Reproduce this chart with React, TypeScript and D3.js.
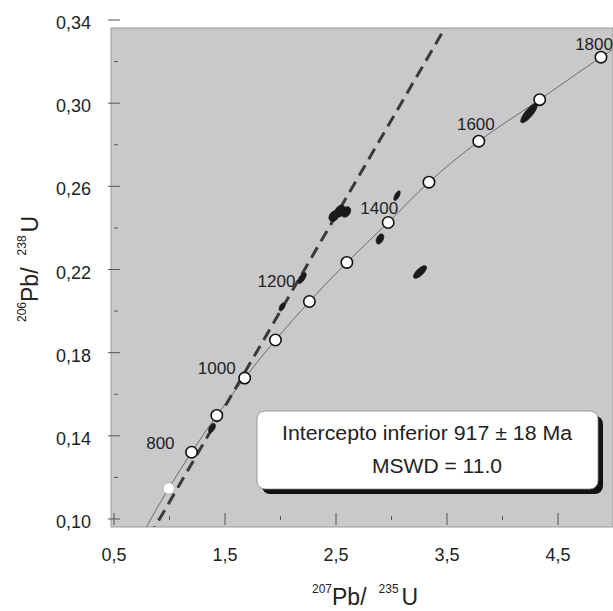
import React from "react";
import * as d3 from "d3";

// Concordia reference points (age in Ma, 207Pb/235U, 206Pb/238U)
const concAges = [500, 600, 700, 800, 900, 1000, 1100, 1200, 1300, 1400, 1500, 1600, 1700, 1800, 1900];
const concX = [0.6363, 0.8057, 0.9926, 1.1987, 1.4263, 1.6774, 1.9545, 2.2603, 2.5977, 2.9701, 3.3374, 3.7863, 4.3348, 4.8870, 5.4962];
const concY = [0.0807, 0.0975, 0.1147, 0.1321, 0.1498, 0.1678, 0.1861, 0.2046, 0.2234, 0.2426, 0.2620, 0.2817, 0.3017, 0.3221, 0.3428];
const markerAges = [700, 800, 900, 1000, 1100, 1200, 1300, 1400, 1500, 1600, 1700, 1800];
const labelAges = [800, 1000, 1200, 1400, 1600, 1800];

// Discordia line (two points)
const discX = [0.869, 3.482];
const discY = [0.0962, 0.3362];

// Analyses (error ellipses: centre, half-widths, correlation)
const ellX = [1.383, 2.014, 2.194, 2.482, 2.536, 2.59, 2.896, 3.05, 3.257, 4.239];
const ellY = [0.1438, 0.202, 0.2159, 0.2457, 0.2481, 0.2477, 0.2347, 0.2555, 0.2188, 0.2952];
const ellSX = [0.03, 0.026, 0.037, 0.045, 0.047, 0.042, 0.034, 0.028, 0.058, 0.074];
const ellSY = [0.0022, 0.0019, 0.0026, 0.0026, 0.0028, 0.0025, 0.0024, 0.0023, 0.0030, 0.0046];
const ellRho = [0.5, 0.5, 0.66, 0.3, 0.3, 0.3, 0.42, 0.65, 0.72, 0.82];

const xTicks = [0.5, 1.5, 2.5, 3.5, 4.5];
const xMinor = [1.0, 2.0, 3.0, 4.0];
const yTicks = [0.1, 0.14, 0.18, 0.22, 0.26, 0.3, 0.34];
const yMinor = [0.12, 0.16, 0.2, 0.24, 0.28, 0.32];

const boxLine1 = "Intercepto inferior 917 ± 18 Ma";
const boxLine2 = "MSWD = 11.0";

const W = 613, H = 611;
const plot = { left: 111, top: 28, right: 613, bottom: 527 };

const fmt = (v: number, d: number) => v.toFixed(d).replace(".", ",");

export default function App() {
  const x = d3.scaleLinear().domain([0.5, 4.5]).range([114, 558]);
  const y = d3.scaleLinear().domain([0.1, 0.34]).range([519, 20]);

  const concPts: [number, number][] = concX.map((v, i) => [x(v), y(concY[i])]);
  const concPath = d3.line().curve(d3.curveCatmullRom)(concPts) || "";

  const slope = (discY[1] - discY[0]) / (discX[1] - discX[0]);
  const dx0 = 0.3, dx1 = 4.0;
  const discPath = d3.line()([
    [x(dx0), y(discY[0] + slope * (dx0 - discX[0]))],
    [x(dx1), y(discY[0] + slope * (dx1 - discX[0]))],
  ]) || "";

  const ellPaths = ellX.map((cx, i) => {
    const pts: [number, number][] = d3.range(0, 360, 6).map((deg) => {
      const t = (deg * Math.PI) / 180;
      const px = cx + ellSX[i] * Math.cos(t);
      const py = ellY[i] + ellSY[i] * (ellRho[i] * Math.cos(t) + Math.sqrt(1 - ellRho[i] ** 2) * Math.sin(t));
      return [x(px), y(py)];
    });
    return d3.line().curve(d3.curveLinearClosed)(pts) || "";
  });

  const labelOffsets: Record<number, [number, number]> = {
    800: [-17, -3],
    1000: [-9, -4],
    1200: [-14, -15],
    1400: [10, -9],
    1600: [16, -11],
    1800: [12, -7],
  };

  const textColor = "#222";
  const font = "'Liberation Sans', Arial, sans-serif";

  return (
    <svg width={W} height={H} style={{ position: "absolute", left: 0, top: 0 }} fontFamily={font}>
      <defs>
        <clipPath id="plotClip">
          <rect x={plot.left} y={plot.top} width={plot.right - plot.left} height={plot.bottom - plot.top} />
        </clipPath>
      </defs>
      <rect width={W} height={H} fill="#fff" />
      <rect x={plot.left} y={plot.top} width={plot.right - plot.left} height={plot.bottom - plot.top}
        fill="#c9c9cb" stroke="#9a9a9a" strokeWidth={1} />

      {/* y ticks */}
      {yTicks.map((t) => (
        <g key={"yt" + t}>
          <line x1={108} x2={120} y1={y(t)} y2={y(t)} stroke="#555" strokeWidth={1} />
          <text x={91} y={y(t) + 9} textAnchor="end" fontSize={18} fill={textColor}>{fmt(t, 2)}</text>
        </g>
      ))}
      {yMinor.map((t) => (
        <line key={"ym" + t} x1={114} x2={118} y1={y(t)} y2={y(t)} stroke="#555" strokeWidth={1} />
      ))}
      {/* x ticks */}
      {xTicks.map((t) => (
        <g key={"xt" + t}>
          <line x1={x(t)} x2={x(t)} y1={513} y2={525} stroke="#555" strokeWidth={1} />
          <text x={x(t)} y={561} textAnchor="middle" fontSize={18} fill={textColor}>{fmt(t, 1)}</text>
        </g>
      ))}
      {xMinor.map((t) => (
        <line key={"xm" + t} x1={x(t)} x2={x(t)} y1={516} y2={520} stroke="#555" strokeWidth={1} />
      ))}

      <g clipPath="url(#plotClip)">
        <path d={concPath} fill="none" stroke="#6b6b6b" strokeWidth={1} />
        <path d={discPath} fill="none" stroke="#3a3a3a" strokeWidth={3} strokeDasharray="12,7" />
        {ellPaths.map((d, i) => (
          <path key={"e" + i} d={d} fill="#1a1a1a" stroke="#1a1a1a" strokeWidth={1} />
        ))}
        {markerAges.map((a) => {
          const i = concAges.indexOf(a);
          return (
            <circle key={"c" + a} cx={x(concX[i])} cy={y(concY[i])} r={5.7} fill="#fff"
              stroke={a === 700 ? "#b5b5b5" : "#111"} strokeWidth={a === 700 ? 1 : 1.6} />
          );
        })}
        {labelAges.map((a) => {
          const i = concAges.indexOf(a);
          const [ox, oy] = labelOffsets[a];
          return (
            <text key={"l" + a} x={x(concX[i]) + ox} y={y(concY[i]) + oy} textAnchor="end"
              fontSize={17} fill={textColor}>{a}</text>
          );
        })}
      </g>

      {/* Result box */}
      <rect x={262} y={416} width={341} height={78} rx={8} fill="#111" />
      <rect x={257} y={411} width={341} height={78} rx={8} fill="#fff" stroke="#8a8a8a" strokeWidth={0.8} />
      <text x={282} y={440} fontSize={19.5} fill={textColor} textLength={290} lengthAdjust="spacingAndGlyphs">{boxLine1}</text>
      <text x={372} y={473} fontSize={19.5} fill={textColor} textLength={130} lengthAdjust="spacingAndGlyphs">{boxLine2}</text>

      {/* Axis titles */}
      <text x={312} y={605} fill={textColor}>
        <tspan fontSize={12} dy={-12}>207</tspan>
        <tspan fontSize={23} dy={12}>Pb/</tspan>
        <tspan fontSize={12} dx={12} dy={-12}>235</tspan>
        <tspan fontSize={23} dy={12} dx={3}>U</tspan>
      </text>
      <text transform="translate(38,322) rotate(-90)" fill={textColor}>
        <tspan fontSize={12} dy={-12}>206</tspan>
        <tspan fontSize={23} dy={12}>Pb/</tspan>
        <tspan fontSize={12} dx={12} dy={-12}>238</tspan>
        <tspan fontSize={23} dy={12} dx={3}>U</tspan>
      </text>
    </svg>
  );
}
